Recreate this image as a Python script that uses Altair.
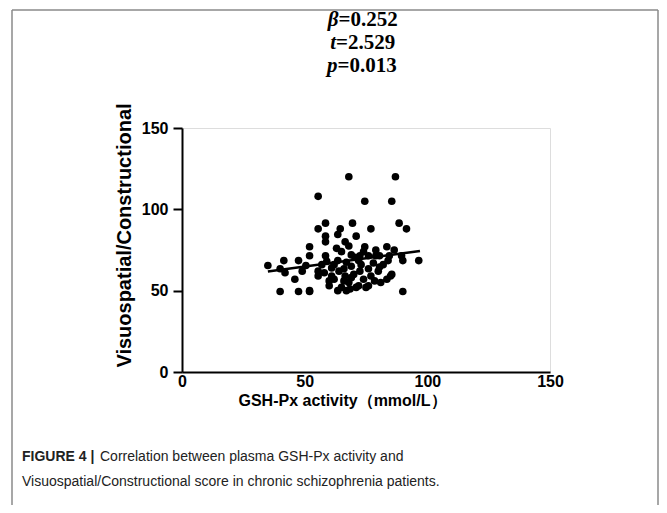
import altair as alt
import pandas as pd

# GSH-Px activity (mmol/L) and Visuospatial/Constructional score
gsh = [68, 87, 55.5, 74.5, 85.5, 55.5, 58.5, 64.5, 69.5, 77, 88.5, 91.5, 58.5, 63.5, 71,
       58.5, 66.5, 68, 52, 74.5, 83.5, 52, 58.5, 47.5, 41.5, 35, 50.5, 40, 42, 46,
       40, 47.5, 52, 90, 96.5, 90, 86.5, 89.5, 84.5, 80.5, 79, 76, 72.5, 70.5, 63.5,
       67, 72, 84, 55.5, 58, 66, 66.5, 55.5, 61, 72.5, 76, 80, 80.5, 77, 85,
       85.5, 83.5, 60, 66, 68, 72, 76, 78.5, 63.5, 65, 67, 68.5, 71, 75, 52,
       61, 62, 64, 69, 70, 73, 78, 82, 60, 62, 69, 74, 81, 57, 59,
       69, 74, 65, 63, 79, 49]
score = [120, 120, 108, 105, 105, 88, 91.5, 88, 91.5, 88, 91.5, 88, 83.5, 84.5, 83.5,
         80, 80, 77.5, 77, 77, 77, 71.5, 71.5, 68.5, 68.5, 65.5, 65.5, 63.5, 61, 57,
         49.5, 49.5, 49.5, 49.5, 68.5, 68.5, 75, 71.5, 71.5, 71.5, 71.5, 71.5, 71.5, 70.5, 68.5,
         67.5, 68.5, 68.5, 62, 61, 63.5, 59, 59, 59, 62, 63.5, 62, 64.5, 59, 59,
         60, 57, 53, 56, 55, 53, 53, 56, 50, 52, 50, 51, 52, 52, 50,
         64, 66, 62, 65, 60, 66, 67, 66, 56, 57, 58, 57, 55, 66, 68,
         72, 74, 74, 76, 75, 62]

stats_letters = ["β", "t", "p"]
stats_values = ["=0.252", "=2.529", "=0.013"]

caption_bold = "FIGURE 4 |"
caption_line1 = "Correlation between plasma GSH-Px activity and"
caption_line2 = "Visuospatial/Constructional score in chronic schizophrenia patients."

df = pd.DataFrame({"gsh": gsh, "score": score})

W, H = 368, 244
SANS = "Liberation Sans"
SERIF = "Liberation Serif"

xscale = alt.Scale(domain=[0, 150], nice=False, zero=False)
yscale = alt.Scale(domain=[0, 150], nice=False, zero=False)

xaxis = alt.Axis(values=[0, 50, 100, 150], ticks=False, tickSize=0, labelPadding=1,
                 labelFlush=False, grid=False, domainColor="black", domainWidth=2,
                 labelFont=SANS, labelFontWeight="bold", labelFontSize=16, labelColor="black",
                 title="GSH-Px activity（mmol/L）", titleFont=SANS, titleFontWeight="bold",
                 titleFontSize=16, titleColor="black", titleX=160, titleY=28,
                 titleAlign="center", titleBaseline="middle")
yaxis = alt.Axis(values=[0, 50, 100, 150], tickSize=9, tickWidth=2, tickColor="black",
                 labelPadding=5, labelFlush=False, grid=False, domainColor="black", domainWidth=2,
                 labelFont=SANS, labelFontWeight="bold", labelFontSize=16, labelColor="black",
                 title="Visuospatial/Constructional", titleFont=SANS, titleFontWeight="bold",
                 titleFontSize=20, titleColor="black", titleX=-58, titleY=107,
                 titleAngle=270, titleAlign="center", titleBaseline="middle")

points = alt.Chart(df).mark_circle(size=58, color="black", opacity=1).encode(
    x=alt.X("gsh:Q", scale=xscale, axis=xaxis),
    y=alt.Y("score:Q", scale=yscale, axis=yaxis),
)

reg = alt.Chart(df).transform_regression("gsh", "score", extent=[35, 97]).mark_line(
    color="black", strokeWidth=2.5
).encode(x=alt.X("gsh:Q", scale=xscale), y=alt.Y("score:Q", scale=yscale))

layers = [points, reg]

one = pd.DataFrame({"a": [0]})

def txt(s, x, y, align="left", font=SANS, size=16, weight="normal", style="normal", color="black"):
    return alt.Chart(one).mark_text(text=s, align=align, baseline="middle", font=font,
                                    fontSize=size, fontWeight=weight, fontStyle=style,
                                    color=color).encode(x=alt.value(x), y=alt.value(y))

# statistics block (plot coordinates, origin at page 182,128)
stat_y = [-108, -85, -62]
stat_x = [156.5, 154, 155.5]
for letter, val, xx, yy in zip(stats_letters, stats_values, stat_x, stat_y):
    layers.append(txt(letter, xx, yy, align="right", font=SERIF, size=21, weight="bold", style="italic"))
    layers.append(txt(val, xx, yy, align="left", font=SERIF, size=21, weight="bold"))

# caption
layers.append(txt(caption_bold, -160, 329, font=SANS, size=14, weight="bold", color="#222"))
layers.append(txt(caption_line1, -82, 329, font=SANS, size=14, color="#222"))
layers.append(txt(caption_line2, -160, 354, font=SANS, size=14, color="#222"))

# figure frame (top, left, right)
frame_color = "#8a8a8a"
layers.append(alt.Chart(one).mark_rule(color=frame_color, strokeWidth=1.5).encode(
    x=alt.value(-170), x2=alt.value(476), y=alt.value(-118), y2=alt.value(-118)))
layers.append(alt.Chart(one).mark_rule(color=frame_color, strokeWidth=1.5).encode(
    x=alt.value(-170), y=alt.value(-118), y2=alt.value(377)))
layers.append(alt.Chart(one).mark_rule(color=frame_color, strokeWidth=1.5).encode(
    x=alt.value(476), y=alt.value(-118), y2=alt.value(377)))

chart = alt.layer(*layers).properties(
    width=W, height=H,
    autosize=alt.AutoSizeParams(type="none"),
    padding={"left": 174, "top": 120, "right": 109, "bottom": 133},
).configure_view(stroke=None).configure(background="white")

chart.save("out.html", embed_options={"renderer": "svg", "actions": False})
